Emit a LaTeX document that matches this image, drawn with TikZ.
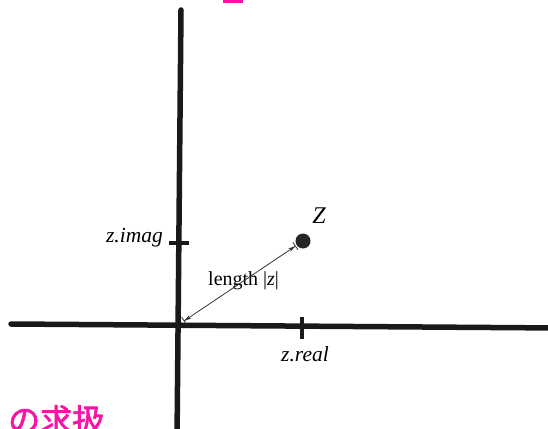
\documentclass[tikz,border=0pt]{standalone}
\usepackage{fontspec}
\setmainfont{Liberation Serif}
\newfontfamily\cjk[FakeBold=2]{Noto Sans CJK JP}
\usetikzlibrary{arrows.meta,calc}
\definecolor{hand}{RGB}{250,20,165}
\begin{document}
\begin{tikzpicture}[x=1pt,y=-1pt,
  axis/.style={line width=5.5pt, line cap=round, black!90},
  tickmark/.style={line width=3.2pt, black!90},
  lbl/.style={font=\fontsize{21.5}{25}\selectfont\itshape, inner sep=0pt},
  dimline/.style={line width=0.8pt, black!80,
    {Bar[width=9pt]Stealth[length=7pt,width=4pt]}-{Stealth[length=7pt,width=4pt]Bar[width=9pt]}}]
\useasboundingbox (0,0) rectangle (548,428);
\clip (0,0) rectangle (548,428);
% axes
\coordinate (vtop) at (181,10);
\coordinate (vbot) at (177,440);
\coordinate (hleft) at (11,324);
\coordinate (hright) at (560,328);
\coordinate (O) at (178,325);
\draw[axis] (vtop) -- (vbot);
\draw[axis] (hleft) -- (hright);
% ticks
\coordinate (xt) at (302,328);
\coordinate (yt) at (179,243);
\draw[tickmark] ($(xt)+(0,-11)$) -- ($(xt)+(0,11)$);
\draw[tickmark] ($(yt)+(-10,0)$) -- ($(yt)+(10,0)$);
% labels
\node[lbl, anchor=base east] (imag) at (163,242) {z.imag};
\node[lbl, anchor=base] (real) at (305,361) {z.real};
% point z
\node[circle, fill=black!85, minimum size=15pt, inner sep=0pt] (zp) at (303,241) {};
\node[font=\fontsize{24}{28}\selectfont\itshape, inner sep=0pt, anchor=base] (zl) at (319,223) {Z};
% length
\node[font=\fontsize{20}{24}\selectfont, inner sep=0pt, anchor=base west] (len) at (208,285) {length |\textit{z}|};
\draw[dimline, shorten <=7pt, shorten >=1pt] (O) -- (zp);
% handwritten remnants
\fill[hand] (223,0) rectangle (243,3);
\node[font=\cjk\fontsize{32}{36}\selectfont, text=hand, anchor=base west, inner sep=0pt] (jp) at (8,432) {の求扱};
\end{tikzpicture}
\end{document}
